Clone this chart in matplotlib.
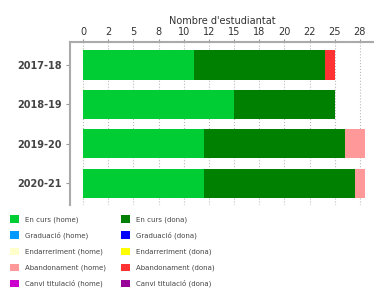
import numpy as np
import matplotlib
matplotlib.use("Agg")
import matplotlib.pyplot as plt
from matplotlib.patches import Patch

# dades
cursos = ['2017-18', '2018-19', '2019-20', '2020-21']
categories = ['En curs', 'Graduació', 'Endarreriment', 'Abandonament', 'Canvi titulació']
home = {
    'En curs': [11, 15, 12, 12],
    'Graduació': [0, 0, 0, 0],
    'Endarreriment': [0, 0, 0, 0],
    'Abandonament': [0, 0, 2, 1],
    'Canvi titulació': [0, 0, 0, 0],
}
dona = {
    'En curs': [13, 10, 14, 15],
    'Graduació': [0, 0, 0, 0],
    'Endarreriment': [0, 0, 0, 0],
    'Abandonament': [1, 0, 0, 0],
    'Canvi titulació': [0, 0, 0, 0],
}
col_home = ['#00cc33', '#0099ff', '#ffffcc', '#ff9999', '#cc00cc']
col_dona = ['#008000', '#0000ff', '#ffff00', '#ff3333', '#990099']
tick_vals = np.arange(0, 28.5, 2.5)
tick_labels = ['0', '2', '5', '8', '10', '12', '15', '18', '20', '22', '25', '28']

fig = plt.figure(figsize=(3.74, 2.89), dpi=100)
ax = fig.add_axes([0.187, 0.29, 0.813, 0.565])

y = np.arange(len(cursos))
left = np.zeros(len(cursos))
# per categoria: home i despres dona
for i, c in enumerate(categories):
    for vals, col in [(home[c], col_home[i]), (dona[c], col_dona[i])]:
        vals = np.array(vals, dtype=float)
        ax.barh(y, vals, left=left, height=0.74, color=col, zorder=2)
        left += vals

ax.set_xlim(-1.3, 28.9)
ax.set_ylim(3.56, -0.585)
ax.set_xticks(tick_vals)
ax.set_xticklabels(tick_labels, fontsize=7, color='#333333')
ax.xaxis.tick_top()
ax.xaxis.set_label_position('top')
ax.set_xlabel("Nombre d'estudiantat", fontsize=7, color='#333333', labelpad=2)
ax.set_yticks(y)
ax.set_yticklabels(cursos, fontsize=7, fontweight='bold', color='#444444')
ax.tick_params(axis='x', length=2, color='#999999', pad=1.5)
ax.tick_params(axis='y', length=3, color='#999999', pad=3)
ax.grid(axis='x', linestyle=':', color='#bbbbbb', linewidth=0.8, zorder=0)
for s in ['right', 'bottom']:
    ax.spines[s].set_visible(False)
for s in ['left', 'top']:
    ax.spines[s].set_color('#aaaaaa')
    ax.spines[s].set_linewidth(1.5)

handles = [Patch(facecolor=col_home[i], label=c + ' (home)') for i, c in enumerate(categories)]
handles += [Patch(facecolor=col_dona[i], label=c + ' (dona)') for i, c in enumerate(categories)]
leg = fig.legend(handles=handles, ncol=2, loc='upper left', bbox_to_anchor=(0.02, 0.265),
                 frameon=False, fontsize=5.0, handlelength=1.25, handleheight=1.25,
                 handletextpad=0.9, columnspacing=2.2, labelspacing=1.25, borderaxespad=0)
for t in leg.get_texts():
    t.set_color('#444444')

fig.savefig('out.png', dpi=100)
